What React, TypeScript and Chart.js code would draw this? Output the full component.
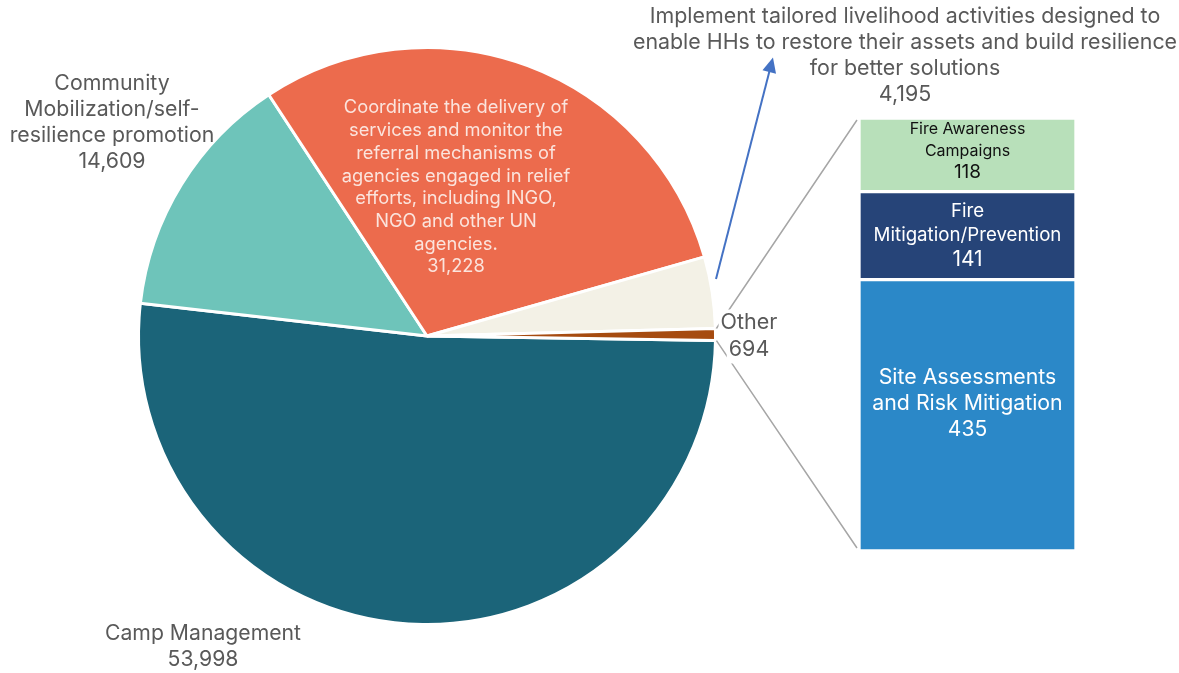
import React, { useEffect, useRef } from 'react';
import { Chart, registerables } from 'chart.js';

Chart.register(...registerables);

const W = 1179;
const H = 673;
const FONT = 'Inter, "Noto Sans", sans-serif';

// ---- Data ----
const pieLabels: string[][] = [
  ['Camp Management'],
  ['Community', 'Mobilization/self-', 'resilience promotion'],
  [
    'Coordinate the delivery of',
    'services and monitor the',
    'referral mechanisms of',
    'agencies engaged in relief',
    'efforts, including INGO,',
    'NGO and other UN',
    'agencies.',
  ],
  [
    'Implement tailored livelihood activities designed to',
    'enable HHs to restore their assets and build resilience',
    'for better solutions',
  ],
  ['Other'],
];
const pieValues = [53998, 14609, 31228, 4195, 694];
const pieColors = ['#1B6479', '#6EC4BA', '#EC6B4D', '#F3F1E6', '#A64B10'];

const barLabels: string[][] = [
  ['Site Assessments', 'and Risk Mitigation'],
  ['Fire', 'Mitigation/Prevention'],
  ['Fire Awareness', 'Campaigns'],
];
const barValues = [435, 141, 118];
const barColors = ['#2B88C8', '#264478', '#B8E0BA'];

// ---- Layout / style ----
const BAR_LEFT = 859;
const BAR_TOP = 118;
const BAR_W = 217;
const BAR_H = 433;

const pieLabelStyle = [
  { x: 203, y: 634, size: 21.2, lh: 26, color: '#595959', bg: false },
  { x: 112, y: 84, size: 21.3, lh: 26, color: '#595959', bg: false },
  { x: 456, y: 108, size: 18.3, lh: 22.7, color: '#FBE4DD', bg: false },
  { x: 905, y: 17, size: 21.4, lh: 26, color: '#595959', bg: false },
  { x: 749, y: 323, size: 21.5, lh: 27, color: '#595959', bg: true },
];

const barLabelStyle = [
  { size: 21.3, valueSize: 21, lh: 26, color: '#FFFFFF', offset: -12 },
  { size: 18.7, valueSize: 21, lh: 24.5, color: '#FFFFFF', offset: 0 },
  { size: 16, valueSize: 19, lh: 21.5, color: '#111111', offset: -4 },
];

const fmt = (v: number) => v.toLocaleString('en-US');

const pieDecor = {
  id: 'pieDecor',
  afterDraw(chart: any) {
    const ctx: CanvasRenderingContext2D = chart.ctx;
    const meta = chart.getDatasetMeta(0);
    const other = meta.data[4] as any;
    const p = other.getProps(['x', 'y', 'startAngle', 'endAngle', 'outerRadius'], true);
    ctx.save();
    // connector lines
    ctx.strokeStyle = '#A6A6A6';
    ctx.lineWidth = 1.5;
    const r = p.outerRadius + 1;
    ctx.beginPath();
    ctx.moveTo(p.x + r * Math.cos(p.startAngle), p.y + r * Math.sin(p.startAngle));
    ctx.lineTo(BAR_LEFT - 2, BAR_TOP + 2);
    ctx.moveTo(p.x + r * Math.cos(p.endAngle), p.y + r * Math.sin(p.endAngle));
    ctx.lineTo(BAR_LEFT - 2, BAR_TOP + BAR_H - 3);
    ctx.stroke();

    // arrow to Implement label
    const sx = 716, sy = 279, tx = 773, ty = 57.5;
    const dx = tx - sx, dy = ty - sy;
    const len = Math.hypot(dx, dy);
    const ux = dx / len, uy = dy / len;
    const head = 15, half = 7;
    const bx = tx - ux * head, by = ty - uy * head;
    ctx.strokeStyle = '#4472C4';
    ctx.fillStyle = '#4472C4';
    ctx.lineWidth = 2;
    ctx.beginPath();
    ctx.moveTo(sx, sy);
    ctx.lineTo(bx + ux * 2, by + uy * 2);
    ctx.stroke();
    ctx.beginPath();
    ctx.moveTo(tx, ty);
    ctx.lineTo(bx - uy * half, by + ux * half);
    ctx.lineTo(bx + uy * half, by - ux * half);
    ctx.closePath();
    ctx.fill();

    // labels
    ctx.textAlign = 'center';
    ctx.textBaseline = 'middle';
    pieLabels.forEach((lines, i) => {
      const st = pieLabelStyle[i];
      const all = [...lines, fmt(pieValues[i])];
      ctx.font = `${st.size}px ${FONT}`;
      all.forEach((t, j) => {
        const y = st.y + j * st.lh;
        if (st.bg) {
          const w = ctx.measureText(t).width;
          ctx.fillStyle = '#FFFFFF';
          ctx.fillRect(st.x - w / 2 - 2, y - st.lh / 2, w + 4, st.lh);
        }
        ctx.fillStyle = st.color;
        ctx.fillText(t, st.x, y);
      });
    });
    ctx.restore();
  },
};

const barDecor = {
  id: 'barDecor',
  afterDraw(chart: any) {
    const ctx: CanvasRenderingContext2D = chart.ctx;
    ctx.save();
    ctx.textAlign = 'center';
    ctx.textBaseline = 'middle';
    barLabels.forEach((lines, i) => {
      const el = chart.getDatasetMeta(i).data[0] as any;
      const pr = el.getProps(['x', 'y', 'base'], true);
      const st = barLabelStyle[i];
      const all = [...lines, fmt(barValues[i])];
      const cy = (pr.y + pr.base) / 2 + st.offset;
      const y0 = cy - ((all.length - 1) * st.lh) / 2;
      ctx.fillStyle = st.color;
      all.forEach((t, j) => {
        const isVal = j === all.length - 1;
        ctx.font = `${isVal ? st.valueSize : st.size}px ${FONT}`;
        ctx.fillText(t, pr.x, y0 + j * st.lh);
      });
    });
    ctx.restore();
  },
};

export default function App() {
  const pieRef = useRef<HTMLCanvasElement>(null);
  const barRef = useRef<HTMLCanvasElement>(null);

  useEffect(() => {
    document.body.style.margin = '0';
    const pie = new Chart(pieRef.current!, {
      type: 'pie',
      data: {
        labels: pieLabels.map((l) => l.join(' ')),
        datasets: [
          {
            data: pieValues,
            backgroundColor: pieColors,
            borderColor: '#FFFFFF',
            borderWidth: 3,
          },
        ],
      },
      options: {
        responsive: false,
        animation: false,
        rotation: 90.9,
        layout: { padding: { left: 137, right: 462, top: 46, bottom: 47 } },
        plugins: { legend: { display: false }, tooltip: { enabled: false } },
      },
      plugins: [pieDecor],
    });

    const total = barValues.reduce((a, b) => a + b, 0);
    const bar = new Chart(barRef.current!, {
      type: 'bar',
      data: {
        labels: ['Other'],
        datasets: barValues.map((v, i) => ({
          label: barLabels[i].join(' '),
          data: [v],
          backgroundColor: barColors[i],
          borderColor: '#FFFFFF',
          borderWidth: 2,
          borderSkipped: false,
          barPercentage: 1,
          categoryPercentage: 1,
        })),
      },
      options: {
        responsive: false,
        animation: false,
        layout: { padding: 0 },
        plugins: { legend: { display: false }, tooltip: { enabled: false } },
        scales: {
          x: { display: false, stacked: true },
          y: { display: false, stacked: true, min: 0, max: total },
        },
      },
      plugins: [barDecor],
    });

    let alive = true;
    Promise.all([
      document.fonts.load(`20px Inter`),
    ]).then(() => {
      if (alive) {
        pie.draw();
        bar.draw();
      }
    }).catch(() => {});

    return () => {
      alive = false;
      pie.destroy();
      bar.destroy();
    };
  }, []);

  return (
    <div style={{ position: 'fixed', left: 0, top: 0, width: W, height: H, background: '#fff' }}>
      <canvas
        ref={pieRef}
        width={W}
        height={H}
        style={{ position: 'absolute', left: 0, top: 0, width: W, height: H, display: 'block' }}
      />
      <canvas
        ref={barRef}
        width={BAR_W}
        height={BAR_H}
        style={{ position: 'absolute', left: BAR_LEFT, top: BAR_TOP, width: BAR_W, height: BAR_H, display: 'block' }}
      />
    </div>
  );
}
